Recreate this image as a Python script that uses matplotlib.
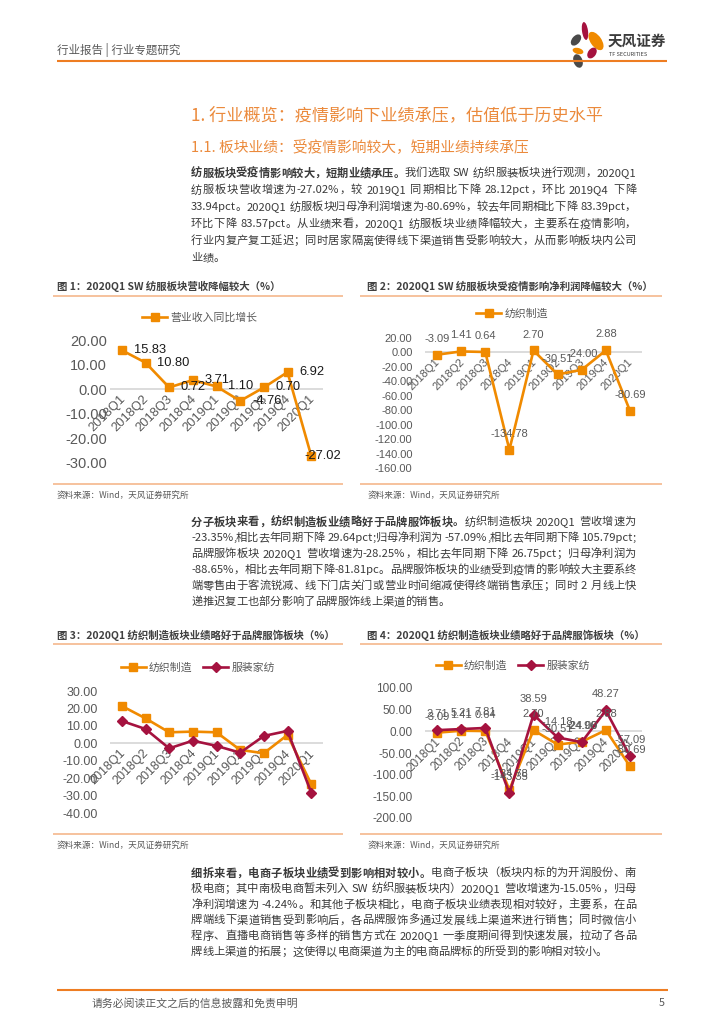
import re
import numpy as np
import matplotlib.pyplot as plt
from matplotlib.lines import Line2D
from matplotlib.patches import Ellipse
from matplotlib.ticker import FormatStrFormatter

plt.rcParams['font.family'] = ['Noto Sans CJK SC', 'DejaVu Sans']

# ---- data ----
quarters = ['2018Q1', '2018Q2', '2018Q3', '2018Q4', '2019Q1',
            '2019Q2', '2019Q3', '2019Q4', '2020Q1']
revenue_growth = [15.83, 10.80, 0.72, 3.71, 1.10, -4.76, 0.70, 6.92, -27.02]
profit_growth = [-3.09, 1.41, 0.64, -134.78, 2.70, -30.51, -24.00, 2.88, -80.69]
rev_textile = [21.40, 14.30, 6.30, 6.70, 6.29, -3.80, -5.70, 4.80, -23.35]
rev_apparel = [12.80, 8.20, -2.90, 1.50, -1.50, -5.40, 4.20, 7.10, -28.25]
profit_textile = [-3.09, 1.41, 0.64, -134.78, 2.70, -30.51, -24.00, 2.88, -80.69]
profit_apparel = [2.71, 5.21, 7.81, -143.35, 38.59, -14.18, -24.96, 48.27, -57.09]

para1_head = '纺服板块受疫情影响较大，短期业绩承压。'
para1 = ['我们选取 SW 纺织服装板块进行观测，2020Q1',
         '纺服板块营收增速为-27.02%，较 2019Q1 同期相比下降 28.12pct，环比 2019Q4 下降',
         '33.94pct。2020Q1 纺服板块归母净利润增速为-80.69%，较去年同期相比下降 83.39pct，',
         '环比下降 83.57pct。从业绩来看，2020Q1 纺服板块业绩降幅较大，主要系在疫情影响，',
         '行业内复产复工延迟；同时居家隔离使得线下渠道销售受影响较大，从而影响板块内公司',
         '业绩。']
para2_head = '分子板块来看，纺织制造板业绩略好于品牌服饰板块。'
para2 = ['纺织制造板块 2020Q1 营收增速为',
         '-23.35%,相比去年同期下降 29.64pct;归母净利润为 -57.09%,相比去年同期下降 105.79pct;',
         '品牌服饰板块 2020Q1 营收增速为-28.25%，相比去年同期下降 26.75pct；归母净利润为',
         '-88.65%，相比去年同期下降-81.81pc。品牌服饰板块的业绩受到疫情的影响较大主要系终',
         '端零售由于客流锐减、线下门店关门或营业时间缩减使得终端销售承压；同时 2 月线上快',
         '递推迟复工也部分影响了品牌服饰线上渠道的销售。']
para3_head = '细拆来看，电商子板块业绩受到影响相对较小。'
para3 = ['电商子板块（板块内标的为开润股份、南',
         '极电商；其中南极电商暂未列入 SW 纺织服装板块内）2020Q1 营收增速为-15.05%，归母',
         '净利润增速为 -4.24%。和其他子板块相比，电商子板块业绩表现相对较好，主要系，在品',
         '牌端线下渠道销售受到影响后，各品牌服饰多通过发展线上渠道来进行销售；同时微信小',
         '程序、直播电商销售等多样的销售方式在 2020Q1 一季度期间得到快速发展，拉动了各品',
         '牌线上渠道的拓展；这使得以电商渠道为主的电商品牌标的所受到的影响相对较小。']

# ---- colours ----
ORANGE = '#F08A00'
CRIMSON = '#A5123F'
GRAY = '#595959'
BODY = '#3a3a3a'
RULE = '#F4B183'
HEAD_RULE = '#EE7D22'
TITLE_OR = '#EB8A3C'

W, H = 724, 1024
fig = plt.figure(figsize=(W / 100, H / 100), dpi=100)
page = fig.add_axes([0, 0, 1, 1])
page.set_xlim(0, W)
page.set_ylim(H, 0)
page.set_axis_off()
renderer = fig.canvas.get_renderer()

BODY_FS = 8.1
TEXT_R = 636


def rule(x0, x1, y, color, lw):
    page.plot([x0, x1], [y, y], color=color, lw=lw, solid_capstyle='butt')


def text_line(segments, x0, y, justify):
    items = []
    for s, wt in segments:
        for tok in re.findall(r'[A-Za-z0-9.%+\-]+|.', s):
            t = page.text(0, 0, tok, fontsize=BODY_FS, fontweight=wt,
                          color=BODY, va='center', ha='left')
            items.append(t)
    widths = []
    for t in items:
        if t.get_text() == ' ':
            widths.append(BODY_FS * 0.3 * 100 / 72)
        else:
            widths.append(t.get_window_extent(renderer=renderer).width)
    gap = 0
    if justify and len(items) > 1:
        gap = (TEXT_R - x0 - sum(widths)) / (len(items) - 1)
    x = x0
    for t, w in zip(items, widths):
        t.set_position((x, y))
        x += w + gap


def paragraph(head, lines, y0, dy):
    for k, line in enumerate(lines):
        segs = [(head, 'bold'), (line, 'normal')] if k == 0 else [(line, 'normal')]
        text_line(segs, 191, y0 + k * dy, k < len(lines) - 1)


def chart_axes(x0, y0, x1, y1):
    return fig.add_axes([x0 / W, 1 - y1 / H, (x1 - x0) / W, (y1 - y0) / H])


def style_chart(ax, ylim, step, fs, pad, xfs):
    ax.set_xlim(-0.5, 8.5)
    ax.set_ylim(*ylim)
    ax.set_yticks(np.arange(ylim[0], ylim[1] + step / 2, step))
    ax.yaxis.set_major_formatter(FormatStrFormatter('%.2f'))
    ax.tick_params(axis='y', length=0, labelsize=fs, labelcolor=GRAY, pad=pad,
                   labelfontfamily='Liberation Sans')
    ax.set_xticks([])
    for sp in ax.spines.values():
        sp.set_visible(False)
    ax.patch.set_alpha(0)
    ax.axhline(0, color='#D9D9D9', lw=1.3, zorder=1)
    for i, q in enumerate(quarters):
        ax.annotate(q, xy=(i, 0), xytext=(1, -6), textcoords='offset points',
                    rotation=45, rotation_mode='anchor', ha='right', va='center',
                    fontsize=xfs, color=GRAY, family='Liberation Sans', zorder=1)


def value_labels(ax, values, dxs, dy, color, fs, ha):
    for i, v in enumerate(values):
        ax.annotate(f'{v:.2f}', (i, v), xytext=(dxs[i], dy), textcoords='offset points',
                    ha=ha, va='center', fontsize=fs, color=color,
                    family='Liberation Sans', zorder=5)


def legend(ax, handles, labels, cx, cy):
    ax.legend(handles, labels, loc='center', bbox_to_anchor=(cx / W, 1 - cy / H),
              bbox_transform=fig.transFigure, frameon=False, ncol=len(handles),
              fontsize=7.8, labelcolor=GRAY, handlelength=2.3, handletextpad=0.3,
              columnspacing=1.0, borderpad=0)


sq = dict(color=ORANGE, lw=1.9, marker='s', ms=5.5, zorder=3, clip_on=False)
dm = dict(color=CRIMSON, lw=1.9, marker='D', ms=4.8, zorder=4, clip_on=False)
h_sq = Line2D([], [], color=ORANGE, lw=1.9, marker='s', ms=5.5)
h_dm = Line2D([], [], color=CRIMSON, lw=1.9, marker='D', ms=4.8)
xs = np.arange(len(quarters))

# ---- header ----
page.text(57, 50, '行业报告 | 行业专题研究', fontsize=8.3, color=GRAY, va='center')
rule(57, 667, 61, HEAD_RULE, 1.5)
petals = [(576, 40, 8, 13, 40, '#4a4a4a'), (585, 31, 6, 18, -8, CRIMSON),
          (596, 41, 11, 21, -35, ORANGE), (578, 51, 11, 6, 15, ORANGE),
          (592, 53, 8, 12, 35, CRIMSON), (578, 61, 9, 14, -20, '#4a4a4a')]
for cx, cy, w, h, a, c in petals:
    page.add_patch(Ellipse((cx, cy), w, h, angle=a, color=c, lw=0))
page.text(608, 41, '天风证券', fontsize=10.5, fontweight='bold', color='#3b3b3b', va='center')
page.text(609, 55, 'TF SECURITIES', fontsize=4, color='#3b3b3b', va='center')

page.text(191, 115, '1. 行业概览：疫情影响下业绩承压，估值低于历史水平',
          fontsize=12.3, color=TITLE_OR, va='center')
page.text(191, 147, '1.1. 板块业绩：受疫情影响较大，短期业绩持续承压',
          fontsize=10.6, color=TITLE_OR, va='center')

paragraph(para1_head, para1, 173, 17)
paragraph(para2_head, para2, 522, 16)
paragraph(para3_head, para3, 873, 15.8)

# ---- chart frames ----
titles = [(57, 286, '图 1：2020Q1 SW 纺服板块营收降幅较大（%）'),
          (367, 286, '图 2：2020Q1 SW 纺服板块受疫情影响净利润降幅较大（%）'),
          (57, 635, '图 3：2020Q1 纺织制造板块业绩略好于品牌服饰板块（%）'),
          (367, 635, '图 4：2020Q1 纺织制造板块业绩略好于品牌服饰板块（%）')]
for x, y, s in titles:
    page.text(x, y, s, fontsize=7.5, fontweight='bold', color='#404040', va='center')
for y in (296, 484, 644, 834):
    rule(53, 343, y, RULE, 1.1)
    rule(360, 662, y, RULE, 1.1)
for x, y in [(57, 495), (368, 495), (57, 845), (368, 845)]:
    page.text(x, y, '资料来源：Wind，天风证券研究所', fontsize=6.2, color=GRAY, va='center')

# ---- chart 1 ----
ax1 = chart_axes(110, 340, 323, 463)
style_chart(ax1, (-30, 20), 10, 10.5, 2, 9.3)
ax1.plot(xs, revenue_growth, **sq)
value_labels(ax1, revenue_growth, [8.5] * 8 + [-5], 0, '#1a1a1a', 9.3, 'left')
legend(ax1, [h_sq], ['营业收入同比增长'], 200, 318)

# ---- chart 2 ----
ax2 = chart_axes(425, 338, 642, 468)
style_chart(ax2, (-160, 20), 20, 8, 9, 8)
ax2.plot(xs, profit_growth, **sq)
value_labels(ax2, profit_growth, [0] * 9, 11.5, GRAY, 8, 'center')
legend(ax2, [h_sq], ['纺织制造'], 512, 314)

# ---- chart 3 ----
ax3 = chart_axes(110, 691, 323, 813)
style_chart(ax3, (-40, 30), 10, 9, 9, 9)
ax3.plot(xs, rev_textile, **sq)
ax3.plot(xs, rev_apparel, **dm)
legend(ax3, [h_sq, h_dm], ['纺织制造', '服装家纺'], 198, 668)

# ---- chart 4 ----
ax4 = chart_axes(425, 688, 642, 818)
style_chart(ax4, (-200, 100), 50, 8.5, 9, 8.5)
ax4.plot(xs, profit_textile, **sq)
ax4.plot(xs, profit_apparel, **dm)
value_labels(ax4, profit_textile, [0] * 9, 11.5, GRAY, 8, 'center')
value_labels(ax4, profit_apparel, [0] * 9, 11.5, GRAY, 8, 'center')
legend(ax4, [h_sq, h_dm], ['纺织制造', '服装家纺'], 513, 666)

# ---- footer ----
rule(57, 668, 990, HEAD_RULE, 1.5)
page.text(92, 1003, '请务必阅读正文之后的信息披露和免责申明', fontsize=7.8, color=GRAY, va='center')
page.text(665, 1003, '5', fontsize=7.8, color=GRAY, va='center', ha='right')

fig.savefig('out.png', dpi=100)
